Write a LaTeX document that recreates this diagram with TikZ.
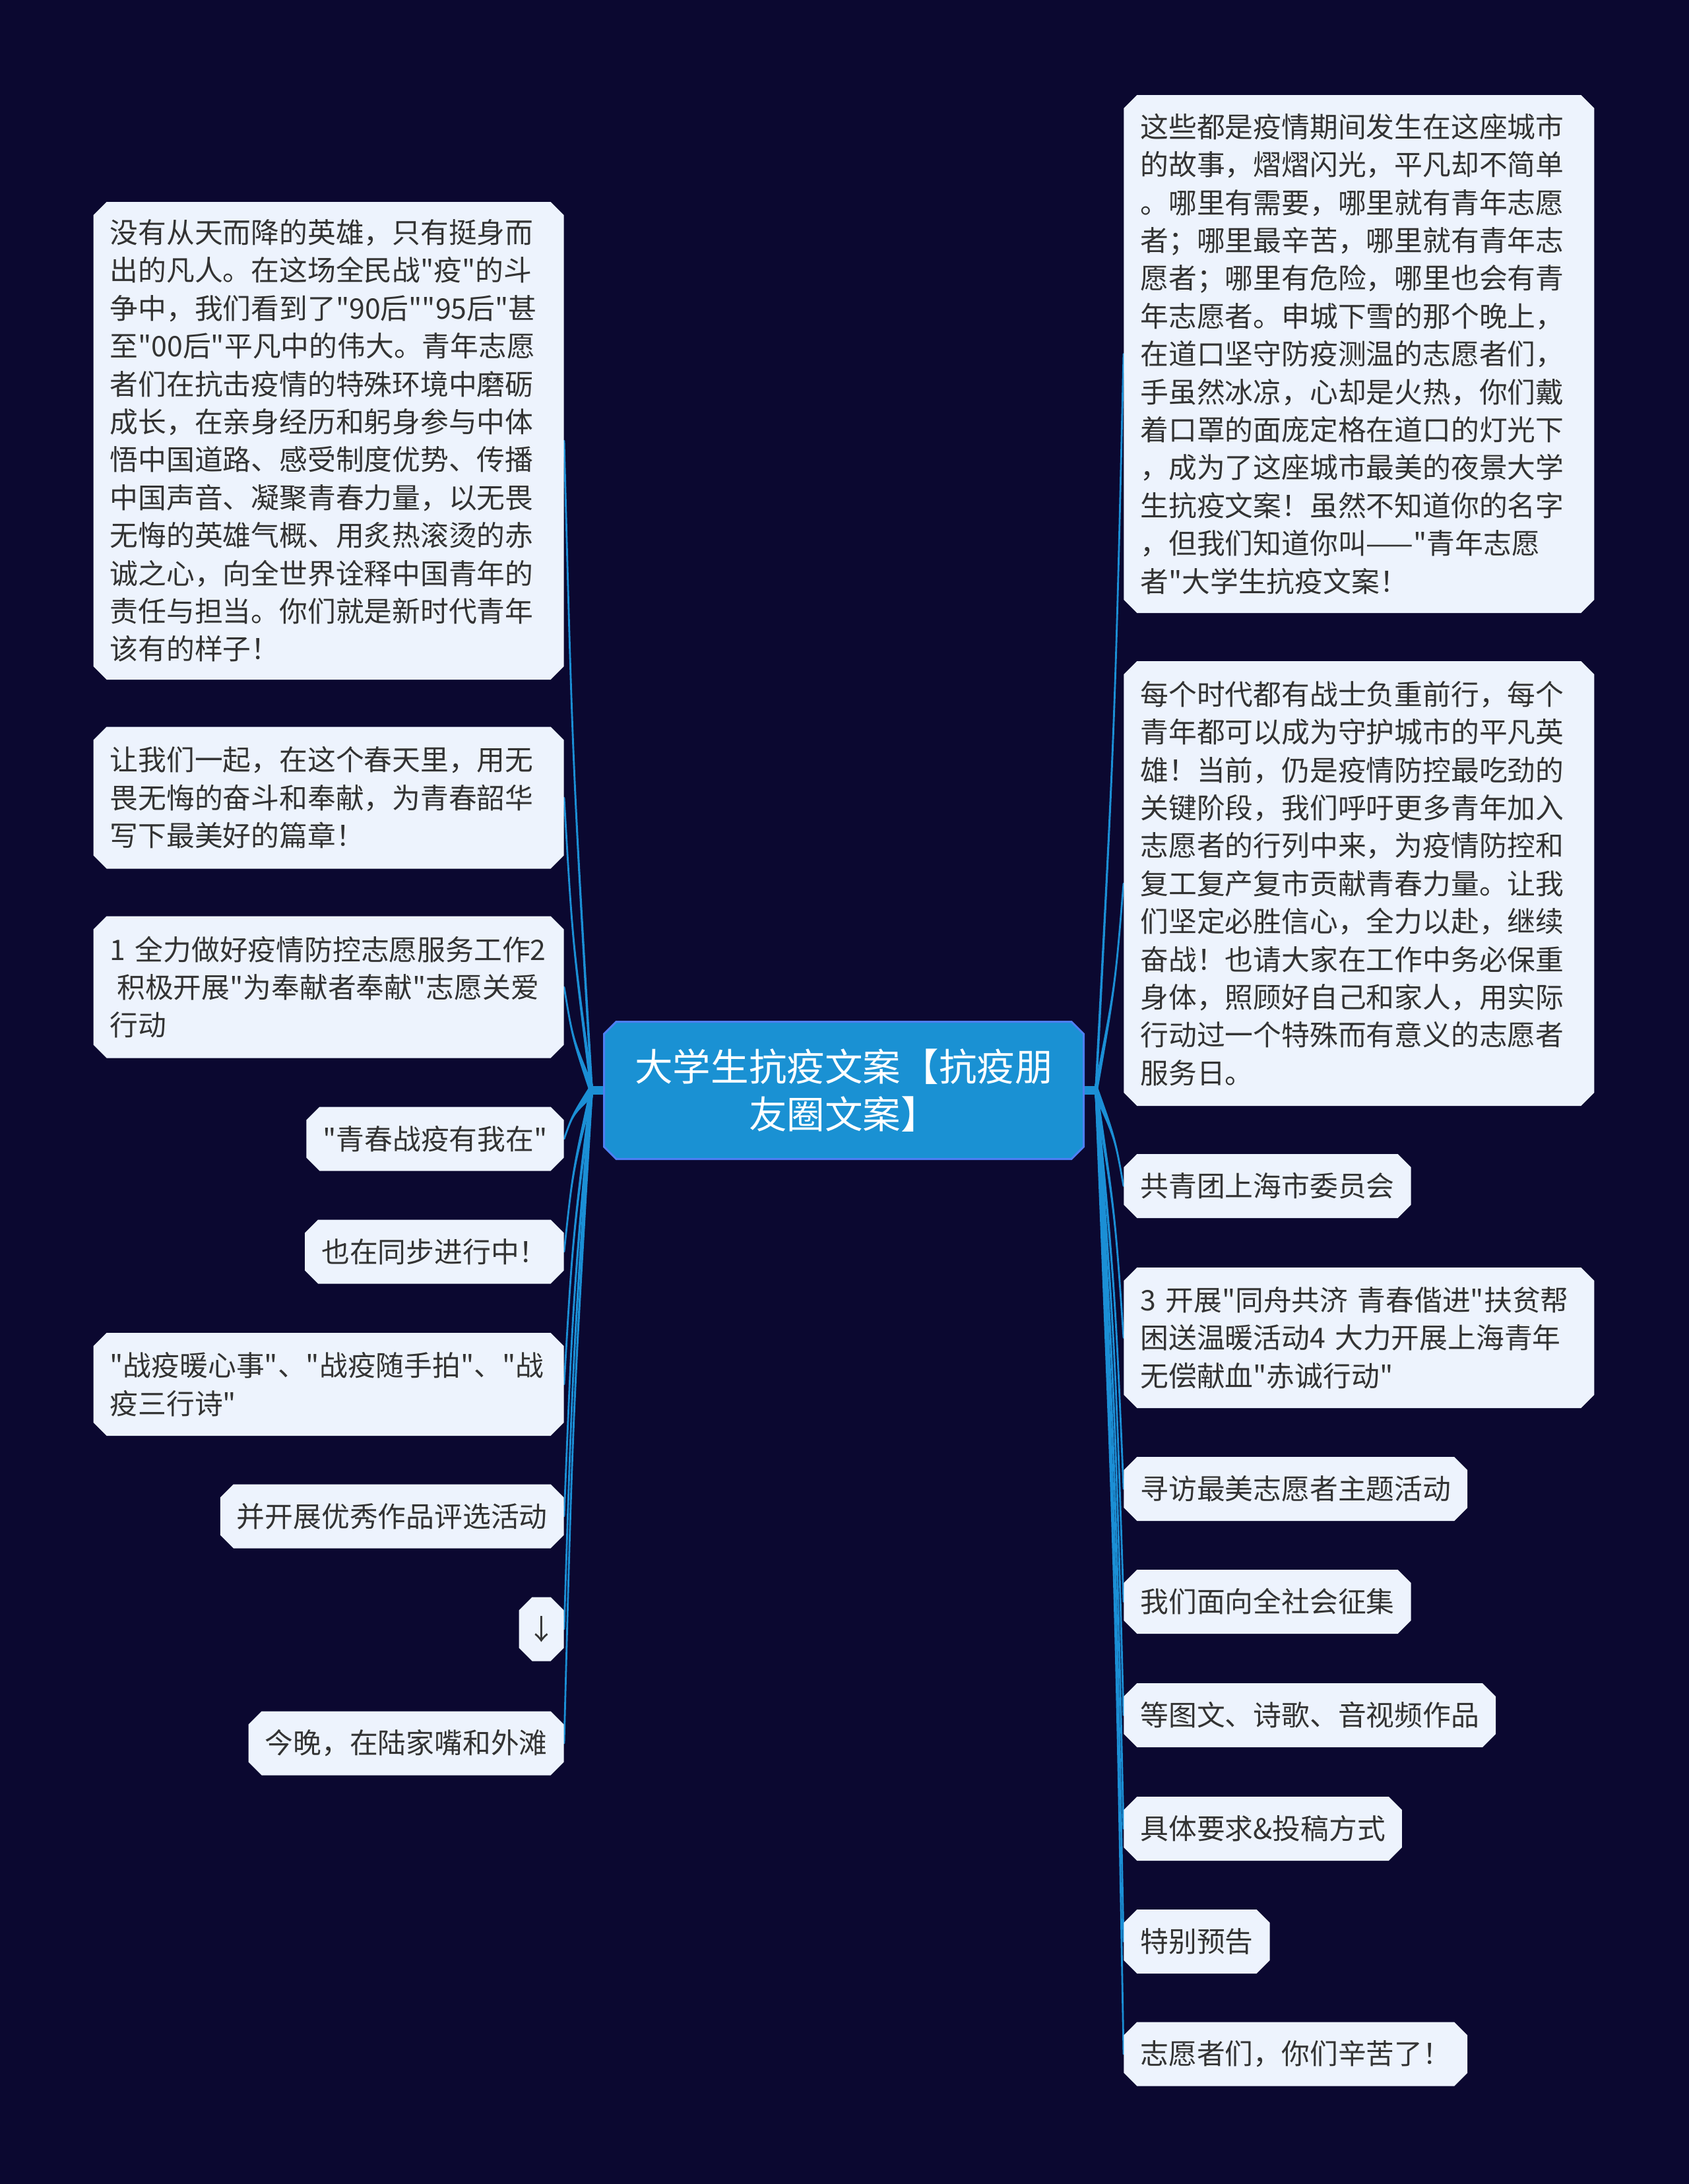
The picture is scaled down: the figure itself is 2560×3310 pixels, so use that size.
\documentclass[tikz,border=0pt]{standalone}
\usepackage{fontspec}
\setmainfont{Noto Sans CJK SC}
\newfontfamily\cjk{Noto Sans CJK SC}
\usetikzlibrary{calc}
\definecolor{bgc}{HTML}{0B0830}
\definecolor{leafc}{HTML}{EDF3FD}
\definecolor{hubc}{HTML}{1A91D3}
\definecolor{hubedge}{HTML}{4D7FF2}
\definecolor{twigc}{HTML}{1B8FD5}
\definecolor{txtc}{HTML}{333333}
\newcommand\leaffont{\cjk\fontsize{21.4pt}{28.7pt}\selectfont}
\newcommand\hubfont{\cjk\fontsize{28.8pt}{35.9pt}\selectfont}
\pgfdeclarelayer{bg}
\pgfsetlayers{bg,main}
\tikzset{
  leafbox/.style={rectangle, inner xsep=12.5pt, inner ysep=0pt, font=\leaffont, text=txtc, align=left,
    path picture={\fill[leafc]
      ([xshift=10pt]path picture bounding box.north west) --
      ([xshift=-10pt]path picture bounding box.north east) --
      ([yshift=-10pt]path picture bounding box.north east) --
      ([yshift=10pt]path picture bounding box.south east) --
      ([xshift=-10pt]path picture bounding box.south east) --
      ([xshift=10pt]path picture bounding box.south west) --
      ([yshift=10pt]path picture bounding box.south west) --
      ([yshift=-10pt]path picture bounding box.north west) -- cycle;}},
  shortleaf/.style={leafbox, minimum height=48.5pt},
  hubbox/.style={rectangle, inner sep=0pt, font=\hubfont, text=white, align=center,
    path picture={\filldraw[fill=hubc, draw=hubedge, line width=1.5pt]
      ([xshift=10pt,yshift=-0.75pt]path picture bounding box.north west) --
      ([xshift=-10pt,yshift=-0.75pt]path picture bounding box.north east) --
      ([xshift=-0.75pt,yshift=-10pt]path picture bounding box.north east) --
      ([xshift=-0.75pt,yshift=10pt]path picture bounding box.south east) --
      ([xshift=-10pt,yshift=0.75pt]path picture bounding box.south east) --
      ([xshift=10pt,yshift=0.75pt]path picture bounding box.south west) --
      ([xshift=0.75pt,yshift=10pt]path picture bounding box.south west) --
      ([xshift=0.75pt,yshift=-10pt]path picture bounding box.north west) -- cycle;}},
  twig/.style={fill=twigc, draw=twigc, line width=1.4pt, line join=round},
  stub/.style={draw=twigc, line width=6.5pt}
}
\begin{document}
\begin{tikzpicture}[x=0.5pt,y=-0.5pt]
\begin{pgfonlayer}{bg}
\fill[bgc] (0,0) rectangle (2560,3310);
\end{pgfonlayer}
\useasboundingbox (0,0) rectangle (2560,3310);

% hub
\node[hubbox, minimum width=365pt, minimum height=105.5pt] (hub) at (1279,1652.5) {大学生抗疫文案【抗疫朋\\友圈文案】};
\coordinate (rl) at (897,1652.5);
\coordinate (rr) at (1661,1652.5);

% left leaves
\node[leafbox, anchor=east, text width=331.5pt, minimum height=362pt] (l1) at (855,668) {没有从天而降的英雄，只有挺身而\\出的凡人。在这场全民战"疫"的斗\\争中，我们看到了"90后""95后"甚\\至"00后"平凡中的伟大。青年志愿\\者们在抗击疫情的特殊环境中磨砺\\成长，在亲身经历和躬身参与中体\\悟中国道路、感受制度优势、传播\\中国声音、凝聚青春力量，以无畏\\无悔的英雄气概、用炙热滚烫的赤\\诚之心，向全世界诠释中国青年的\\责任与担当。你们就是新时代青年\\该有的样子！};
\node[leafbox, anchor=east, text width=331.5pt, minimum height=107.5pt] (l2) at (855,1209) {让我们一起，在这个春天里，用无\\畏无悔的奋斗和奉献，为青春韶华\\写下最美好的篇章！};
\node[leafbox, anchor=east, text width=331.5pt, minimum height=107.5pt] (l3) at (855,1496) {1~全力做好疫情防控志愿服务工作2\\\hspace*{0.25em}积极开展"为奉献者奉献"志愿关爱\\行动};
\node[shortleaf, anchor=east] (l4) at (855,1726) {"青春战疫有我在"};
\node[shortleaf, anchor=east] (l5) at (855,1897) {也在同步进行中！};
\node[leafbox, anchor=east, text width=331.5pt, minimum height=78pt] (l6) at (855,2098) {"战疫暖心事"、"战疫随手拍"、"战\\疫三行诗"};
\node[shortleaf, anchor=east] (l7) at (855,2298) {并开展优秀作品评选活动};
\node[shortleaf, anchor=east, inner xsep=6pt, minimum width=34pt] (l8) at (855,2469) {↓};
\node[shortleaf, anchor=east] (l9) at (855,2642) {今晚，在陆家嘴和外滩};

% right leaves
\node[leafbox, anchor=west, text width=331.5pt, minimum height=392.5pt] (r1) at (1703,536.5) {这些都是疫情期间发生在这座城市\\的故事，熠熠闪光，平凡却不简单\\。哪里有需要，哪里就有青年志愿\\者；哪里最辛苦，哪里就有青年志\\愿者；哪里有危险，哪里也会有青\\年志愿者。申城下雪的那个晚上，\\在道口坚守防疫测温的志愿者们，\\手虽然冰凉，心却是火热，你们戴\\着口罩的面庞定格在道口的灯光下\\，成为了这座城市最美的夜景大学\\生抗疫文案！虽然不知道你的名字\\，但我们知道你叫——"青年志愿\\者"大学生抗疫文案！};
\node[leafbox, anchor=west, text width=331.5pt, minimum height=337pt] (r2) at (1703,1339) {每个时代都有战士负重前行，每个\\青年都可以成为守护城市的平凡英\\雄！当前，仍是疫情防控最吃劲的\\关键阶段，我们呼吁更多青年加入\\志愿者的行列中来，为疫情防控和\\复工复产复市贡献青春力量。让我\\们坚定必胜信心，全力以赴，继续\\奋战！也请大家在工作中务必保重\\身体，照顾好自己和家人，用实际\\行动过一个特殊而有意义的志愿者\\服务日。};
\node[shortleaf, anchor=west] (r3) at (1703,1797.5) {共青团上海市委员会};
\node[leafbox, anchor=west, text width=331.5pt, minimum height=106.5pt] (r4) at (1703,2027.5) {3~开展"同舟共济~青春偕进"扶贫帮\\困送温暖活动4~大力开展上海青年\\无偿献血"赤诚行动"};
\node[shortleaf, anchor=west] (r5) at (1703,2256.5) {寻访最美志愿者主题活动};
\node[shortleaf, anchor=west] (r6) at (1703,2427.5) {我们面向全社会征集};
\node[shortleaf, anchor=west] (r7) at (1703,2599.5) {等图文、诗歌、音视频作品};
\node[shortleaf, anchor=west] (r8) at (1703,2771.5) {具体要求\&投稿方式};
\node[shortleaf, anchor=west] (r9) at (1703,2942.5) {特别预告};
\node[shortleaf, anchor=west] (r10) at (1703,3113) {志愿者们，你们辛苦了！};

% connectors
\begin{pgfonlayer}{bg}
\draw[stub] (hub.west) -- (rl);
\draw[stub] (hub.east) -- (rr);
\foreach \n in {l1,l2,l3,l4,l5,l6,l7,l8,l9}{
  \filldraw[twig] ($(rl)+(0,-9)$) .. controls ($(rl)!0.5!(\n.east)+(-8,0)$) .. (\n.east)
     .. controls ($(rl)!0.5!(\n.east)+(-8,0)$) .. ($(rl)+(0,9)$) -- cycle;
}
\foreach \n in {r1,r2,r3,r4,r5,r6,r7,r8,r9,r10}{
  \filldraw[twig] ($(rr)+(0,-9)$) .. controls ($(rr)!0.5!(\n.west)+(8,0)$) .. (\n.west)
     .. controls ($(rr)!0.5!(\n.west)+(8,0)$) .. ($(rr)+(0,9)$) -- cycle;
}
\end{pgfonlayer}
\end{tikzpicture}
\end{document}
